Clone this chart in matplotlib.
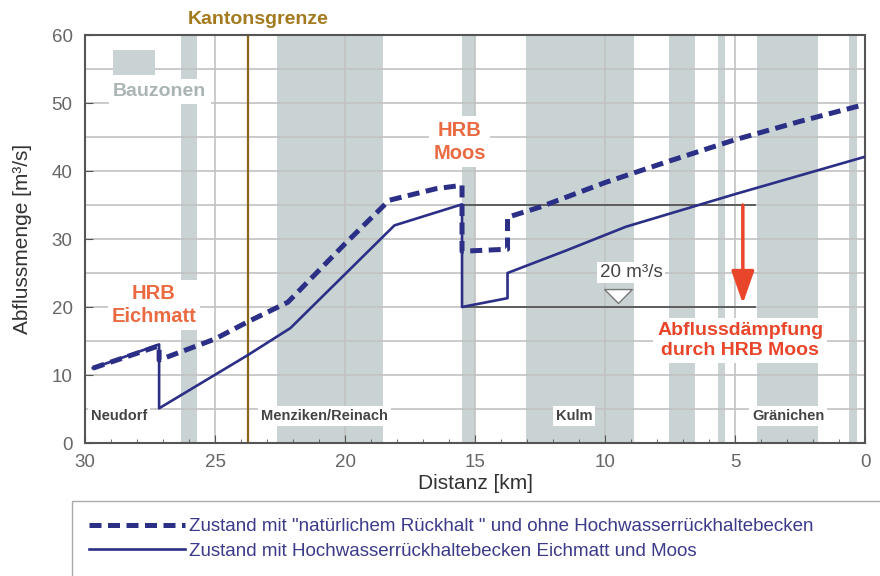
import matplotlib
matplotlib.use("Agg")
import matplotlib.pyplot as plt
from matplotlib.patches import Rectangle
from matplotlib.ticker import MultipleLocator

plt.rcParams["font.family"] = ["Liberation Sans", "DejaVu Sans"]

# Abfluss ohne Rückhaltebecken (natürlicher Rückhalt)
km_natur = [29.7, 27.15, 27.15, 25.0, 23.7, 22.2, 20.0, 18.3, 16.5, 15.5, 15.5,
            13.75, 13.75, 12.5, 10.0, 7.5, 5.0, 2.5, 0.0]
q_natur = [11.0, 14.3, 12.2, 15.3, 17.9, 20.7, 29.3, 35.7, 37.4, 37.9, 28.2,
           28.5, 33.2, 34.7, 38.3, 41.5, 44.6, 47.3, 49.8]

# Abfluss mit HRB Eichmatt und Moos
km_hrb = [29.7, 27.15, 27.15, 23.75, 22.1, 18.1, 15.5, 15.5, 13.75, 13.75,
          11.5, 9.2, 5.0, 0.0]
q_hrb = [11.0, 14.5, 5.1, 12.9, 16.9, 32.0, 35.1, 20.0, 21.3, 25.0,
         28.3, 31.8, 36.6, 42.1]

# Bauzonen (von, bis in km)
bauzonen = [(26.3, 25.7), (22.6, 18.55), (15.5, 15.0), (13.05, 8.9),
            (7.55, 6.55), (5.65, 5.4), (4.15, 1.8), (0.6, 0.3)]

kantonsgrenze_km = 23.75
moos_km = 15.5
q_vorher = 35.0
q_nachher = 20.0
daempfung_km = 4.2
pfeil_km = 4.7

orte = [("Neudorf", 28.7), ("Menziken/Reinach", 20.8), ("Kulm", 11.2), ("Gränichen", 2.95)]

navy = "#2c2f86"
rot = "#e8452a"
orange = "#ea6a42"
band = "#c9d3d3"

fig = plt.figure(figsize=(8.8, 5.76), dpi=100)
ax = fig.add_axes([0.0966, 0.2309, 0.8864, 0.7083])

for a, b in bauzonen:
    ax.axvspan(a, b, color=band, lw=0, zorder=0)

ax.set_axisbelow(True)
ax.xaxis.set_major_locator(MultipleLocator(5))
ax.xaxis.set_minor_locator(MultipleLocator(1))
ax.yaxis.set_major_locator(MultipleLocator(10))
ax.yaxis.set_minor_locator(MultipleLocator(5))
ax.grid(True, which="major", color="#c2c2c2", lw=1.2)
ax.grid(True, which="minor", axis="y", color="#c2c2c2", lw=1.2)

ax.axvline(kantonsgrenze_km, color="#8a6418", lw=1.6, zorder=1)

ax.plot(km_natur, q_natur, color=navy, lw=3.6, dashes=(2.4, 1.3),
        solid_capstyle="butt", dash_capstyle="butt", zorder=4,
        label="Zustand mit \"natürlichem Rückhalt \" und ohne Hochwasserrückhaltebecken")
ax.plot(km_hrb, q_hrb, color=navy, lw=1.9, zorder=4,
        label="Zustand mit Hochwasserrückhaltebecken Eichmatt und Moos")

# Dämpfung durch HRB Moos
ax.hlines([q_vorher, q_nachher], moos_km, daempfung_km, color="#555555", lw=1.3, zorder=3)
ax.annotate("", xy=(pfeil_km, q_nachher + 0.5), xytext=(pfeil_km, q_vorher),
            arrowprops=dict(arrowstyle="-|>,head_length=1.0,head_width=0.35",
                            color=rot, lw=2.5, mutation_scale=20, shrinkA=0, shrinkB=0),
            zorder=5)
ax.plot(9.5, 21.55, marker=[(-1, 0.5), (1, 0.5), (0, -0.5), (-1, 0.5)], ms=20,
        mfc="white", mec="#777777", mew=1.0, zorder=5)
ax.text(9.0, 25.1, "20 m³/s", ha="center", va="center", fontsize=13.5, color="#444444",
        bbox=dict(boxstyle="square,pad=0.12", fc="white", ec="none"), zorder=5)

weiss = dict(boxstyle="square,pad=0.2", fc="white", ec="none")
ax.text(27.35, 20.3, "HRB\nEichmatt", ha="center", va="center", fontsize=14.5,
        fontweight="bold", color=orange, linespacing=1.3, bbox=weiss, zorder=5)
ax.text(15.6, 44.3, "HRB\nMoos", ha="center", va="center", fontsize=14.5,
        fontweight="bold", color=orange, linespacing=1.3, bbox=weiss, zorder=5)
ax.text(4.8, 15.1, "Abflussdämpfung\ndurch HRB Moos", ha="center", va="center",
        fontsize=14, fontweight="bold", color=rot, linespacing=1.2, bbox=weiss, zorder=5)

for name, km in orte:
    ax.text(km, 4.0, name, ha="center", va="center", fontsize=10.5, fontweight="bold",
            color="#444444", bbox=dict(boxstyle="square,pad=0.2", fc="white", ec="none"),
            zorder=5)

# Legende Bauzonen
ax.add_patch(Rectangle((0.036, 0.902), 0.054, 0.061, transform=ax.transAxes,
                       color=band, lw=0, zorder=5))
ax.text(0.036, 0.862, "Bauzonen", transform=ax.transAxes, ha="left", va="center",
        fontsize=14, fontweight="bold", color="#aab4b4",
        bbox=dict(boxstyle="square,pad=0.22", fc="white", ec="none"), zorder=5)

ax.text(23.35, 1.037, "Kantonsgrenze", transform=ax.get_xaxis_transform(),
        ha="center", va="center", fontsize=14, fontweight="bold", color="#a37b1e")

ax.set_xlim(30, 0)
ax.set_ylim(0, 60)
ax.tick_params(which="both", direction="in", colors="#555555", labelcolor="#666666",
               labelsize=13.5)
ax.tick_params(axis="x", which="major", length=6, pad=8)
ax.tick_params(axis="x", which="minor", length=3)
ax.tick_params(axis="y", which="major", length=6, pad=9)
ax.tick_params(axis="y", which="minor", length=0)
for s in ax.spines.values():
    s.set_color("#555555")
    s.set_linewidth(1.5)

ax.set_xlabel("Distanz [km]", fontsize=15, color="#333333", labelpad=2)
ax.set_ylabel("Abflussmenge [m³/s]", fontsize=15, color="#333333", labelpad=14)

fig.legend(loc="upper left", bbox_to_anchor=(0.082, 0.13, 0.95, 0), mode="expand",
           borderaxespad=0, frameon=True, fancybox=False, edgecolor="#aaaaaa",
           framealpha=1, handlelength=5.1, handletextpad=0.25, borderpad=0.9,
           labelspacing=0.4, prop={"size": 13.5}, labelcolor="#3b3b8a")

fig.savefig("out.png", dpi=100)
